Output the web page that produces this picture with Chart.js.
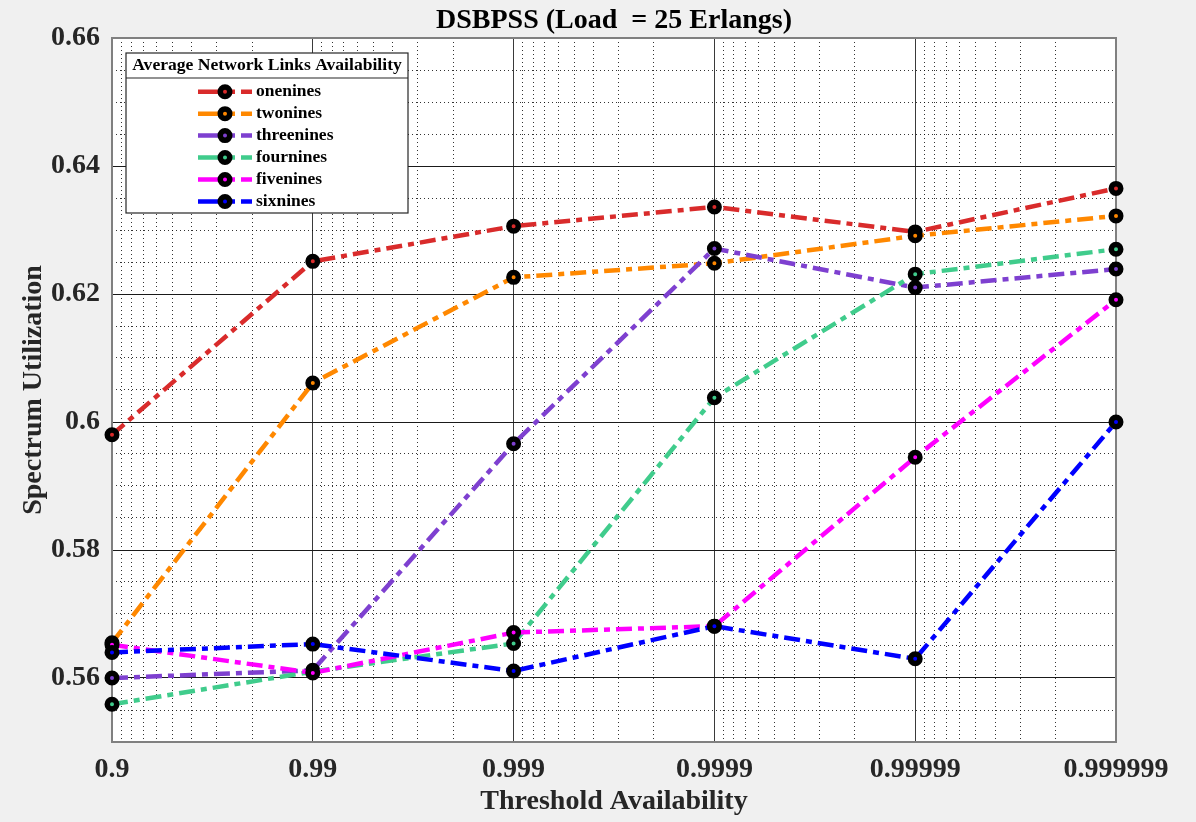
<!DOCTYPE html>
<html>
<head>
<meta charset="utf-8">
<title>DSBPSS (Load = 25 Erlangs)</title>
<script src="https://cdn.jsdelivr.net/npm/chart.js@4/dist/chart.umd.min.js"></script>
<style>
  html, body { margin: 0; padding: 0; background: #f0f0f0; }
  #wrap { width: 1196px; height: 822px; }
</style>
</head>
<body>
<div id="wrap"><canvas id="chart" width="1196" height="822"></canvas></div>
<script>
// threshold availability categories and where they sit on the (reversed) log axis: 1 - availability
const xTickLabels = ['0.9', '0.99', '0.999', '0.9999', '0.99999', '0.999999'];
const unavailability = [1e-1, 1e-2, 1e-3, 1e-4, 1e-5, 1e-6];

const yTickValues = [0.56, 0.58, 0.6, 0.62, 0.64, 0.66];
const yTickLabels = ['0.56', '0.58', '0.6', '0.62', '0.64', '0.66'];

// spectrum utilization per average network links availability
const seriesNames = ['onenines', 'twonines', 'threenines', 'fournines', 'fivenines', 'sixnines'];
const onenines   = [0.5980, 0.6251, 0.6306, 0.6336, 0.6297, 0.6365];
const twonines   = [0.5655, 0.6061, 0.6226, 0.6248, 0.6291, 0.6322];
const threenines = [0.5600, 0.5612, 0.5966, 0.6271, 0.6210, 0.6239];
const fournines  = [0.5559, 0.5610, 0.5654, 0.6038, 0.6231, 0.6270];
const fivenines  = [0.5652, 0.5608, 0.5671, 0.5681, 0.5945, 0.6191];
const sixnines   = [0.5640, 0.5653, 0.5611, 0.5681, 0.5630, 0.6000];
const seriesColors = ['#D92B2B', '#FF8800', '#7E40D0', '#40CC8C', '#FF00FF', '#0000FF'];

const allSeries = [onenines, twonines, threenines, fournines, fivenines, sixnines];

const FONT = "'Liberation Serif', 'Times New Roman', serif";
const DASH = [16, 6, 6, 6];
const chartTitle = 'DSBPSS (Load  = 25 Erlangs)';
const legendTitle = 'Average Network Links Availability';

Chart.defaults.font.family = FONT;
Chart.defaults.font.weight = 'bold';

const datasets = allSeries.map((vals, i) => ({
  label: seriesNames[i],
  data: vals.map((v, j) => ({ x: unavailability[j], y: v })),
  borderColor: seriesColors[i],
  backgroundColor: seriesColors[i],
  borderWidth: 4.5,
  borderDash: DASH,
  borderCapStyle: 'butt',
  pointRadius: 4.75,
  pointBorderWidth: 5.5,
  pointBorderColor: '#000',
  pointBackgroundColor: seriesColors[i],
  pointHoverRadius: 4.75,
  tension: 0,
  clip: false,
  order: -i, // later series on top, like MATLAB
}));

const framePlugin = {
  id: 'frame',
  beforeDraw(chart) {
    const { ctx, chartArea: a } = chart;
    ctx.save();
    ctx.fillStyle = '#f0f0f0';
    ctx.fillRect(0, 0, chart.width, chart.height);
    ctx.fillStyle = '#ffffff';
    ctx.fillRect(a.left, a.top, a.right - a.left, a.bottom - a.top);
    // title centred over the axes, as MATLAB does
    ctx.fillStyle = '#000';
    ctx.font = 'bold 28px ' + FONT;
    ctx.textAlign = 'center';
    ctx.textBaseline = 'alphabetic';
    ctx.fillText(chartTitle, (a.left + a.right) / 2, 28);
    ctx.restore();
  },
  beforeDatasetsDraw(chart) {
    const { ctx, chartArea: a } = chart;
    ctx.save();
    ctx.strokeStyle = '#808080';
    ctx.lineWidth = 2;
    ctx.strokeRect(a.left, a.top, a.right - a.left, a.bottom - a.top);
    ctx.restore();
  },
  afterDatasetsDraw(chart) {
    // legend box, MATLAB style with a title row
    const { ctx } = chart;
    const bx = 126, by = 53, bw = 282, bh = 160;
    ctx.save();
    ctx.fillStyle = '#fff';
    ctx.fillRect(bx, by, bw, bh);
    ctx.strokeStyle = '#262626';
    ctx.lineWidth = 1.2;
    ctx.strokeRect(bx, by, bw, bh);
    ctx.beginPath();
    ctx.moveTo(bx, 78);
    ctx.lineTo(bx + bw, 78);
    ctx.stroke();

    ctx.fillStyle = '#000';
    ctx.font = 'bold 17.6px ' + FONT;
    ctx.textAlign = 'center';
    ctx.textBaseline = 'middle';
    ctx.fillText(legendTitle, bx + bw / 2, 65);

    ctx.font = 'bold 17.5px ' + FONT;
    chart.data.datasets.forEach((ds, i) => {
      const y = 91.7 + i * 21.95;
      ctx.strokeStyle = ds.borderColor;
      ctx.lineWidth = 4.5;
      ctx.lineCap = 'butt';
      ctx.beginPath();
      ctx.moveTo(198, y); ctx.lineTo(235, y);
      ctx.moveTo(241, y); ctx.lineTo(252, y);
      ctx.stroke();
      ctx.beginPath();
      ctx.arc(225, y, 4.75, 0, Math.PI * 2);
      ctx.fillStyle = ds.borderColor;
      ctx.fill();
      ctx.lineWidth = 5.5;
      ctx.strokeStyle = '#000';
      ctx.stroke();
      ctx.fillStyle = '#000';
      ctx.textAlign = 'left';
      ctx.fillText(ds.label, 256, y);
    });
    ctx.restore();
  }
};

new Chart(document.getElementById('chart'), {
  type: 'line',
  data: { datasets },
  options: {
    responsive: false,
    animation: false,
    layout: { padding: { left: 0, right: 80, top: 38, bottom: 0 } },
    scales: {
      x: {
        type: 'logarithmic',
        position: 'bottom',
        reverse: true,
        min: 1e-6,
        max: 1e-1,
        afterBuildTicks: s => { s.ticks = unavailability.map(v => ({ value: v, major: true })); },
        afterFit: s => { s.height = 80; },
        grid: { color: '#3a3a3a', lineWidth: 1, drawTicks: false },
        border: { display: false },
        ticks: {
          autoSkip: false,
          maxRotation: 0,
          padding: 11,
          color: '#262626',
          font: { size: 28, weight: 'bold' },
          callback: v => {
            const i = unavailability.findIndex(u => Math.abs(Math.log10(u) - Math.log10(v)) < 1e-6);
            return i >= 0 ? xTickLabels[i] : '';
          }
        },
        title: {
          display: true,
          text: 'Threshold Availability',
          color: '#262626',
          font: { size: 28, weight: 'bold', lineHeight: 1.2 },
          padding: { top: 0, bottom: 3.7 }
        }
      },
      xMinor: {
        type: 'logarithmic',
        position: 'bottom',
        reverse: true,
        min: 1e-6,
        max: 1e-1,
        afterBuildTicks: s => {
          const t = [];
          for (let e = -6; e < -1; e++) {
            for (let m = 2; m <= 9; m++) t.push({ value: m * Math.pow(10, e) });
          }
          s.ticks = t;
        },
        afterFit: s => { s.height = 0; },
        grid: { color: 'rgba(0,0,0,0.8)', lineWidth: 1, drawTicks: false },
        border: { display: false, dash: [1, 3] },
        ticks: { display: false }
      },
      y: {
        type: 'linear',
        position: 'left',
        min: 0.55,
        max: 0.66,
        afterBuildTicks: s => { s.ticks = yTickValues.map(v => ({ value: v })); },
        afterFit: s => { s.width = 112; },
        grid: { color: '#1a1a1a', lineWidth: 1, drawTicks: false },
        border: { display: false },
        ticks: {
          padding: 12,
          color: '#262626',
          font: { size: 28, weight: 'bold' },
          callback: (v, i) => yTickLabels[i]
        },
        title: {
          display: true,
          text: 'Spectrum Utilization',
          color: '#262626',
          font: { size: 28, weight: 'bold', lineHeight: 1.2 },
          padding: { top: 17, bottom: 0 }
        }
      },
      yMinor: {
        type: 'linear',
        position: 'left',
        min: 0.55,
        max: 0.66,
        afterBuildTicks: s => {
          const t = [];
          for (let k = 1; k < 22; k++) {
            if (k % 4 !== 2) t.push({ value: 0.55 + k * 0.005 });
          }
          s.ticks = t;
        },
        afterFit: s => { s.width = 0; },
        grid: { color: 'rgba(0,0,0,0.8)', lineWidth: 1, drawTicks: false },
        border: { display: false, dash: [1, 3] },
        ticks: { display: false }
      }
    },
    plugins: {
      legend: { display: false },
      tooltip: { enabled: false },
      title: { display: false }
    }
  },
  plugins: [framePlugin]
});
</script>
</body>
</html>
